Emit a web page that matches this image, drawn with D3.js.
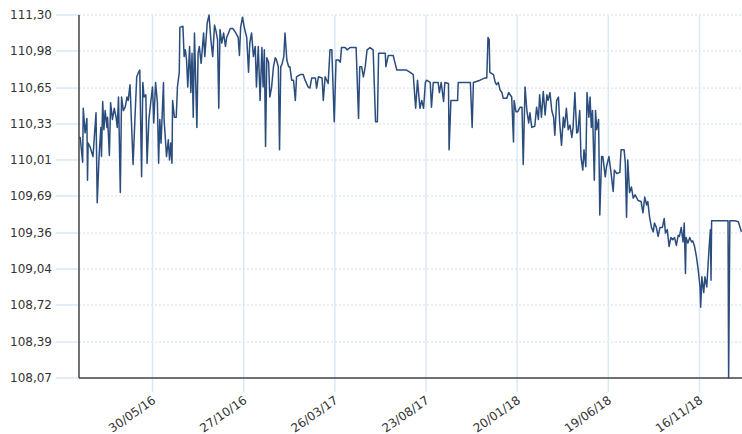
<!DOCTYPE html>
<meta charset="utf-8">
<html>
<head>
<title>Rate chart</title>
<script src="https://d3js.org/d3.v7.min.js"></script>
<style>
  body {margin: 0; background: #fff; font-family: "DejaVu Sans", Verdana, sans-serif;}
  .ylab, .xlab {font-size: 12px; fill: #333;}
  .line {fill: none; stroke: #2a4d7d; stroke-width: 1.5px; stroke-linejoin: round;}
</style>
</head>
<body>
<svg id="chart" width="742" height="434"></svg>
<script>
// days counted from 30/01/2016
var dayOffsets = [
  0,2,4,6,7,10,13,14,15,18,
  23,28,30,33,36,37,39,41,43,46,
  47,50,52,55,58,61,63,65,66,68,
  70,73,76,79,81,84,87,89,92,95,
  98,100,103,105,107,110,112,115,118,121,
  123,126,129,131,133,135,139,140,143,144,
  147,149,151,153,154,157,160,162,165,166,
  171,173,175,177,179,182,184,186,188,190,
  194,196,198,201,205,207,211,214,217,220,
  223,225,228,230,232,235,238,241,243,249,
  253,257,262,264,266,269,272,276,279,281,
  284,287,290,292,295,298,301,303,305,307,
  309,312,314,317,320,323,325,328,330,332,
  334,337,339,342,345,347,350,353,356,358,
  364,369,372,377,380,383,389,391,394,400,
  402,405,410,413,416,420,423,427,430,432,
  438,441,446,451,456,460,462,465,468,471,
  474,479,484,488,491,493,498,504,505,509,
  517,523,534,539,545,550,554,557,561,564,
  567,570,572,578,580,583,591,593,596,600,
  602,608,609,612,616,623,624,633,644,647,
  649,660,668,671,673,675,676,682,685,687,
  690,693,696,698,704,707,712,715,716,719,
  722,726,729,731,734,737,740,742,745,750,
  753,756,758,761,764,767,770,772,775,778,
  781,783,786,789,791,794,797,799,802,805,
  808,811,813,816,819,821,824,826,829,831,
  834,836,839,841,843,845,848,850,852,855,
  857,860,862,866,868,872,875,879,881,885,
  890,892,897,899,901,903,906,909,912,915,
  920,925,928,931,934,936,939,942,945,947,
  950,953,956,960,963,965,968,971,974,977,
  980,983,986,988,991,994,996,998,999,1002,
  1005,1008,1010,1013,1016,1019,1022,1023,1025,1028,
  1030,1033,1035,1037,1039,1040,1041,1046,1057,1068,
  1069,1071,1079,1085,1090
];

var rates = [
  110.21,110.21,110.10,109.99,110.47,110.25,110.38,109.83,110.16,110.13,
  110.04,110.43,109.63,110.04,110.30,110.04,110.53,110.28,110.45,110.30,
  110.39,110.05,110.52,110.37,110.47,110.39,110.30,110.57,110.30,109.72,
  110.57,110.45,110.48,110.57,110.54,110.68,110.25,109.97,110.37,110.75,
  110.79,110.81,109.86,110.70,110.57,110.59,109.98,110.37,110.52,110.66,
  110.34,110.70,110.52,109.98,110.37,110.16,110.70,110.37,110.13,110.04,
  110.19,110.01,110.16,109.98,110.54,110.39,110.39,110.66,110.79,111.19,
  111.20,110.93,110.99,110.90,110.66,111.02,110.61,110.96,110.39,111.14,
  110.30,110.96,111.02,110.87,111.14,110.93,111.23,111.30,111.08,110.93,
  111.21,111.17,111.08,110.47,111.17,111.05,111.14,111.02,111.10,111.18,
  111.18,111.15,111.10,110.94,111.19,111.28,111.19,111.10,110.79,111.05,
  111.14,110.93,111.02,110.66,111.02,110.54,111.01,110.66,110.99,110.13,
  110.92,110.88,110.57,110.66,110.84,110.92,110.90,110.84,110.10,110.84,
  110.86,110.93,111.14,110.90,110.84,110.84,110.72,110.72,110.54,110.75,
  110.77,110.77,110.72,110.66,110.65,110.74,110.74,110.65,110.75,110.74,
  110.54,110.75,110.69,110.99,110.99,110.35,110.90,110.90,110.88,111.01,
  111.01,110.99,111.01,111.01,111.01,110.38,110.84,110.84,110.75,110.84,
  110.99,111.01,110.99,110.35,110.35,110.96,110.96,110.96,110.84,110.94,
  110.94,110.81,110.81,110.81,110.79,110.77,110.47,110.72,110.47,110.54,
  110.47,110.70,110.72,110.70,110.48,110.70,110.70,110.61,110.70,110.53,
  110.70,110.69,110.10,110.54,110.54,110.54,110.70,110.70,110.70,110.30,
  110.70,110.72,110.74,110.74,111.10,111.08,110.79,110.77,110.70,110.68,
  110.70,110.63,110.61,110.56,110.56,110.61,110.57,110.17,110.54,110.44,
  110.44,110.48,110.48,109.97,110.66,110.45,110.34,110.43,110.30,110.31,
  110.48,110.37,110.59,110.39,110.62,110.41,110.59,110.54,110.61,110.45,
  110.39,110.23,110.54,110.57,110.34,110.14,110.39,110.30,110.47,110.28,
  110.32,110.21,110.30,110.61,110.25,110.26,110.45,110.04,109.92,110.10,
  109.95,110.61,110.39,110.57,110.30,110.45,109.83,110.45,110.28,110.37,
  109.52,110.04,110.04,109.86,109.95,110.04,109.92,109.73,109.92,109.89,
  109.90,110.10,110.10,109.98,109.50,110.01,109.72,109.77,109.67,109.70,
  109.65,109.64,109.54,109.68,109.61,109.64,109.50,109.41,109.37,109.45,
  109.41,109.33,109.41,109.41,109.49,109.36,109.39,109.24,109.32,109.30,
  109.32,109.25,109.34,109.33,109.41,109.28,109.45,109.00,109.32,109.27,
  109.32,109.28,109.29,109.24,109.15,109.03,108.88,108.70,108.97,108.83,
  108.97,108.88,109.06,109.24,109.39,108.94,109.47,109.47,109.47,109.47,
  108.07,109.47,109.47,109.46,109.37
];

var yTicks = [108.07, 108.39, 108.72, 109.04, 109.36, 109.69, 110.01, 110.33, 110.65, 110.98, 111.30];
var xTickLabels = ["30/05/16", "27/10/16", "26/03/17", "23/08/17", "20/01/18", "19/06/18", "16/11/18"];

var svg = d3.select("#chart"),
    margin = {top: 15, right: 0, bottom: 56, left: 79},
    width = +svg.attr("width") - margin.left - margin.right,
    height = +svg.attr("height") - margin.top - margin.bottom;

var parseTick = d3.utcParse("%d/%m/%y");
var startDate = Date.UTC(2016, 0, 30);

var data = dayOffsets.map(function (d, i) {
  return {date: d3.utcDay.offset(new Date(startDate), d), value: rates[i]};
});

var x = d3.scaleUtc()
    .domain([new Date(startDate), new Date(Date.UTC(2019, 0, 25))])
    .range([0, width]);
var y = d3.scaleLinear().domain([108.07, 111.30]).range([height, 0]);

var fmt = d3.formatLocale({decimal: ",", thousands: ".", grouping: [3], currency: ["", ""]}).format(".2f");

var g = svg.append("g").attr("transform", "translate(" + margin.left + "," + margin.top + ")");

// horizontal grid: solid stub outside, dotted inside
g.selectAll(".hstub").data(yTicks).enter().append("line")
    .attr("x1", -23).attr("x2", 0)
    .attr("y1", function (d) { return y(d); }).attr("y2", function (d) { return y(d); })
    .attr("stroke", "#d9e7f6").attr("stroke-width", 1.5);
g.selectAll(".hgrid").data(yTicks).enter().append("line")
    .attr("x1", 0).attr("x2", width)
    .attr("y1", function (d) { return y(d); }).attr("y2", function (d) { return y(d); })
    .attr("stroke", "#cfe0f3").attr("stroke-width", 1).attr("stroke-dasharray", "2,2");

// vertical grid
var xTicks = xTickLabels.map(function (s) { return parseTick(s); });
g.selectAll(".vgrid").data(xTicks).enter().append("line")
    .attr("x1", function (d) { return x(d); }).attr("x2", function (d) { return x(d); })
    .attr("y1", 0).attr("y2", height + 14)
    .attr("stroke", "#dbe8f6").attr("stroke-width", 1.5);

g.selectAll(".ylab").data(yTicks).enter().append("text")
    .attr("class", "ylab")
    .attr("x", -27).attr("y", function (d) { return y(d); })
    .attr("dy", "0.35em").attr("text-anchor", "end")
    .text(function (d) { return fmt(d); });

g.selectAll(".xlab").data(xTickLabels).enter().append("text")
    .attr("class", "xlab")
    .attr("text-anchor", "end")
    .attr("transform", function (d) { return "translate(" + (x(parseTick(d)) + 4) + "," + (height + 24) + ") rotate(-35)"; })
    .text(function (d) { return d; });

var line = d3.line()
    .x(function (d) { return x(d.date); })
    .y(function (d) { return y(d.value); });

g.append("path").datum(data).attr("class", "line").attr("d", line);

// axis lines
g.append("line").attr("x1", 0).attr("x2", 0).attr("y1", 0).attr("y2", height)
    .attr("stroke", "#444").attr("stroke-width", 1.5);
g.append("line").attr("x1", 0).attr("x2", width).attr("y1", height).attr("y2", height)
    .attr("stroke", "#444").attr("stroke-width", 1.5);
</script>
</body>
</html>
